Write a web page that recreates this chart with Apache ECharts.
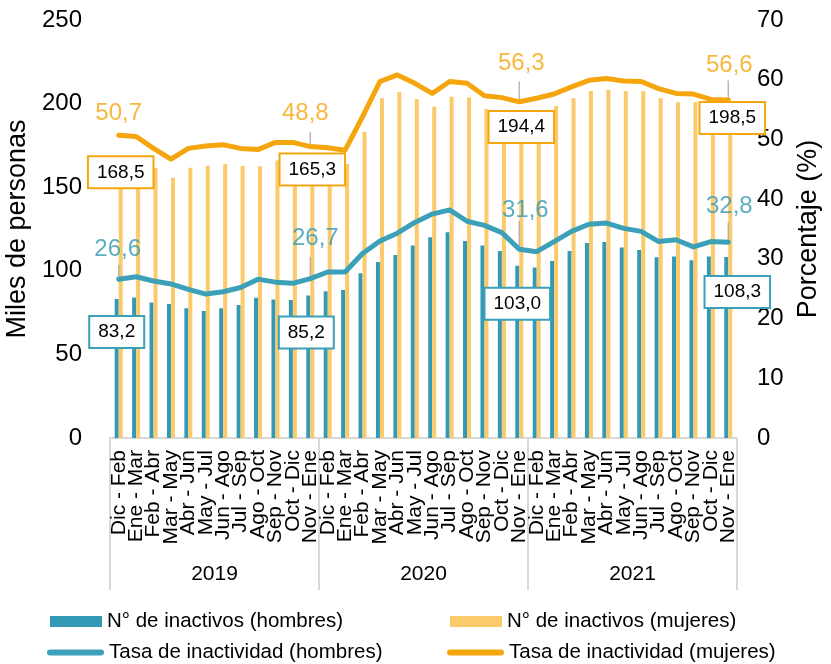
<!DOCTYPE html>
<html>
<head>
<meta charset="utf-8">
<script src="https://cdn.jsdelivr.net/npm/echarts@6/dist/echarts.min.js"></script>
<style>
  html, body { margin: 0; padding: 0; background: #fff; }
  #chart { width: 831px; height: 664px; }
</style>
</head>
<body>
<div id="chart"></div>
<script>
// trimestres móviles de cada año
const meses = ['Dic - Feb', 'Ene - Mar', 'Feb - Abr', 'Mar - May', 'Abr - Jun', 'May - Jul',
  'Jun - Ago', 'Jul - Sep', 'Ago - Oct', 'Sep - Nov', 'Oct - Dic', 'Nov - Ene']
const periodos = meses.concat(meses, meses)
const anios = ['2019', '2020', '2021']

// miles de personas
const inactivosHombres = [83.2, 84.1, 81.1, 80.1, 77.6, 76.0, 77.6, 79.5, 83.9, 82.9, 82.5, 85.2,
  87.7, 88.5, 98.5, 105.3, 109.4, 115.2, 120.0, 123.0, 117.8, 115.2, 111.8, 103.0,
  101.9, 105.9, 111.8, 116.6, 117.2, 114.0, 112.4, 108.1, 108.5, 106.3, 108.6, 108.3]
const inactivosMujeres = [168.5, 166.0, 161.3, 155.7, 161.7, 162.9, 163.9, 162.7, 162.5, 165.9, 164.0, 165.3,
  163.0, 163.9, 183.2, 203.2, 206.9, 202.8, 198.2, 204.1, 203.7, 196.8, 195.0, 194.4,
  195.0, 198.6, 203.2, 207.5, 208.3, 207.5, 207.5, 203.2, 200.8, 201.0, 199.5, 198.5]

// porcentaje
const tasaHombres = [26.6, 27.0, 26.3, 25.8, 24.9, 24.1, 24.5, 25.2, 26.6, 26.1, 25.9, 26.7,
  27.8, 27.8, 30.9, 33.0, 34.3, 36.1, 37.5, 38.2, 36.3, 35.6, 34.4, 31.6,
  31.2, 32.9, 34.6, 35.8, 36.0, 35.1, 34.6, 32.9, 33.2, 32.0, 32.9, 32.8]
const tasaMujeres = [50.7, 50.5, 48.5, 46.7, 48.5, 48.9, 49.1, 48.5, 48.3, 49.5, 49.5, 48.8,
  48.6, 48.2, 53.8, 59.7, 60.8, 59.4, 57.7, 59.7, 59.4, 57.3, 57.0, 56.3,
  56.9, 57.6, 58.8, 59.9, 60.2, 59.8, 59.7, 58.5, 57.7, 57.6, 56.7, 56.6]

// índices con etiqueta
const destacados = [0, 11, 23, 35]

const azulBarra = '#3399b4'
const azulLinea = '#3ca0b9'
const azulTexto = '#3399b4'
const naranjaBarra = '#fbca6a'
const naranjaLinea = '#f5a60e'
const gris = '#a6a6a6'
const fuente = '"Liberation Sans", Arial, sans-serif'
const capsula = 'path://M3,0 H54 A3,3 0 0 1 54,6 H3 A3,3 0 0 1 3,0 Z'

// ajustes de posición de las etiquetas (px)
const ajusteCaja = {
  hombres: [[0, 18], [-2, 22], [0, 23], [11, 20]],
  mujeres: [[0, 1], [0, -7], [0, -1], [2, -3]]
}
const ajusteTexto = {
  hombres: [[-1, 17], [5, 27], [6, 26], [1, 23]],
  mujeres: [[0, 9], [-5, 20], [2, 25], [1, 22]]
}
const guia = {
  hombres: [13, 20, 27, 18],
  mujeres: [0, 13, 19, 18]
}

const coma = v => v.toFixed(1).replace('.', ',')

function datosBarra(valores, color, ajustes) {
  return valores.map((v, i) => {
    const k = destacados.indexOf(i)
    if (k < 0) return v
    return {
      value: v,
      label: {
        show: true,
        position: 'insideTop',
        distance: 0,
        offset: ajustes[k],
        formatter: p => coma(p.value),
        backgroundColor: '#fff',
        borderColor: color,
        borderWidth: 2,
        padding: [5, 8],
        fontSize: 19,
        lineHeight: 20,
        color: '#000',
        fontFamily: fuente
      }
    }
  })
}

function datosTexto(valores, color, ajustes) {
  return valores.map((v, i) => {
    const k = destacados.indexOf(i)
    if (k < 0) return '-'
    return {
      value: v,
      label: {
        show: true,
        position: 'top',
        distance: ajustes[k][1],
        offset: [ajustes[k][0], 0],
        formatter: p => coma(p.value),
        fontSize: 24,
        lineHeight: 24,
        color: color,
        fontFamily: fuente
      }
    }
  })
}

function datosGuia(valores, largos) {
  return valores.map((v, i) => {
    const k = destacados.indexOf(i)
    if (k < 0 || !largos[k]) return '-'
    return {
      value: v,
      symbolSize: [1.5, largos[k]],
      symbolOffset: [0, -(largos[k] / 2 + 1.5)]
    }
  })
}

function leyenda(nombre, left, top, icono) {
  return {
    left: left,
    top: top,
    padding: 0,
    itemWidth: icono === 'rect' ? 52 : 57,
    itemHeight: icono === 'rect' ? 11 : 6,
    itemGap: 3,
    textStyle: { fontSize: 20.5, color: '#000', fontFamily: fuente },
    data: [{ name: nombre, icon: icono }]
  }
}

const chart = echarts.init(document.getElementById('chart'), null, { renderer: 'canvas' })

chart.setOption({
  animation: false,
  textStyle: { fontFamily: fuente, color: '#000' },
  grid: { left: 110, right: 94, top: 20, bottom: 226, outerBoundsMode: 'none' },
  legend: [
    leyenda('N° de inactivos (hombres)', 50, 611, 'rect'),
    leyenda('Tasa de inactividad (hombres)', 47, 642, capsula),
    leyenda('N° de inactivos (mujeres)', 450, 611, 'rect'),
    leyenda('Tasa de inactividad (mujeres)', 447, 642, capsula)
  ],
  xAxis: [{
    type: 'category',
    data: periodos,
    axisLine: { lineStyle: { color: '#d9d9d9', width: 2 } },
    axisTick: { show: false },
    axisLabel: { interval: 0, rotate: 90, margin: 12, fontSize: 21, color: '#000' }
  }, {
    type: 'category',
    data: anios,
    position: 'bottom',
    axisLine: { show: false },
    axisTick: { show: true, length: 152, lineStyle: { color: '#d9d9d9', width: 2 } },
    axisLabel: { margin: 126, fontSize: 21, color: '#000' }
  }],
  yAxis: [{
    type: 'value',
    min: 0,
    max: 250,
    interval: 50,
    name: 'Miles de personas',
    nameLocation: 'middle',
    nameRotate: 90,
    nameGap: 74,
    nameTextStyle: { fontSize: 27, color: '#000' },
    axisLine: { show: false },
    axisTick: { show: false },
    splitLine: { show: false },
    axisLabel: { fontSize: 24, margin: 28, color: '#000' }
  }, {
    type: 'value',
    min: 0,
    max: 70,
    interval: 10,
    name: 'Porcentaje (%)',
    nameLocation: 'middle',
    nameRotate: 90,
    nameGap: 57,
    nameTextStyle: { fontSize: 27, color: '#000' },
    axisLine: { show: false },
    axisTick: { show: false },
    splitLine: { show: false },
    axisLabel: { fontSize: 24, margin: 20, color: '#000' }
  }],
  series: [{
    name: 'N° de inactivos (hombres)',
    type: 'bar',
    barWidth: 4,
    barGap: 0,
    itemStyle: { color: azulBarra },
    data: datosBarra(inactivosHombres, azulLinea, ajusteCaja.hombres)
  }, {
    name: 'N° de inactivos (mujeres)',
    type: 'bar',
    barWidth: 4,
    barGap: 0,
    itemStyle: { color: naranjaBarra },
    data: datosBarra(inactivosMujeres, naranjaLinea, ajusteCaja.mujeres)
  }, {
    name: 'Tasa de inactividad (hombres)',
    type: 'line',
    yAxisIndex: 1,
    symbol: 'none',
    itemStyle: { color: azulLinea },
    lineStyle: { color: azulLinea, width: 5, cap: 'round', join: 'round' },
    data: tasaHombres
  }, {
    name: 'Tasa de inactividad (mujeres)',
    type: 'line',
    yAxisIndex: 1,
    symbol: 'none',
    itemStyle: { color: naranjaLinea },
    lineStyle: { color: naranjaLinea, width: 5, cap: 'round', join: 'round' },
    data: tasaMujeres
  }, {
    type: 'scatter',
    yAxisIndex: 1,
    symbol: 'rect',
    silent: true,
    itemStyle: { color: gris },
    data: datosGuia(tasaHombres, guia.hombres)
  }, {
    type: 'scatter',
    yAxisIndex: 1,
    symbol: 'rect',
    silent: true,
    itemStyle: { color: gris },
    data: datosGuia(tasaMujeres, guia.mujeres)
  }, {
    type: 'scatter',
    yAxisIndex: 1,
    symbolSize: 2,
    silent: true,
    itemStyle: { color: 'rgba(0,0,0,0)' },
    data: datosTexto(tasaHombres, azulTexto, ajusteTexto.hombres)
  }, {
    type: 'scatter',
    yAxisIndex: 1,
    symbolSize: 2,
    silent: true,
    itemStyle: { color: 'rgba(0,0,0,0)' },
    data: datosTexto(tasaMujeres, naranjaLinea, ajusteTexto.mujeres)
  }]
})
</script>
</body>
</html>
